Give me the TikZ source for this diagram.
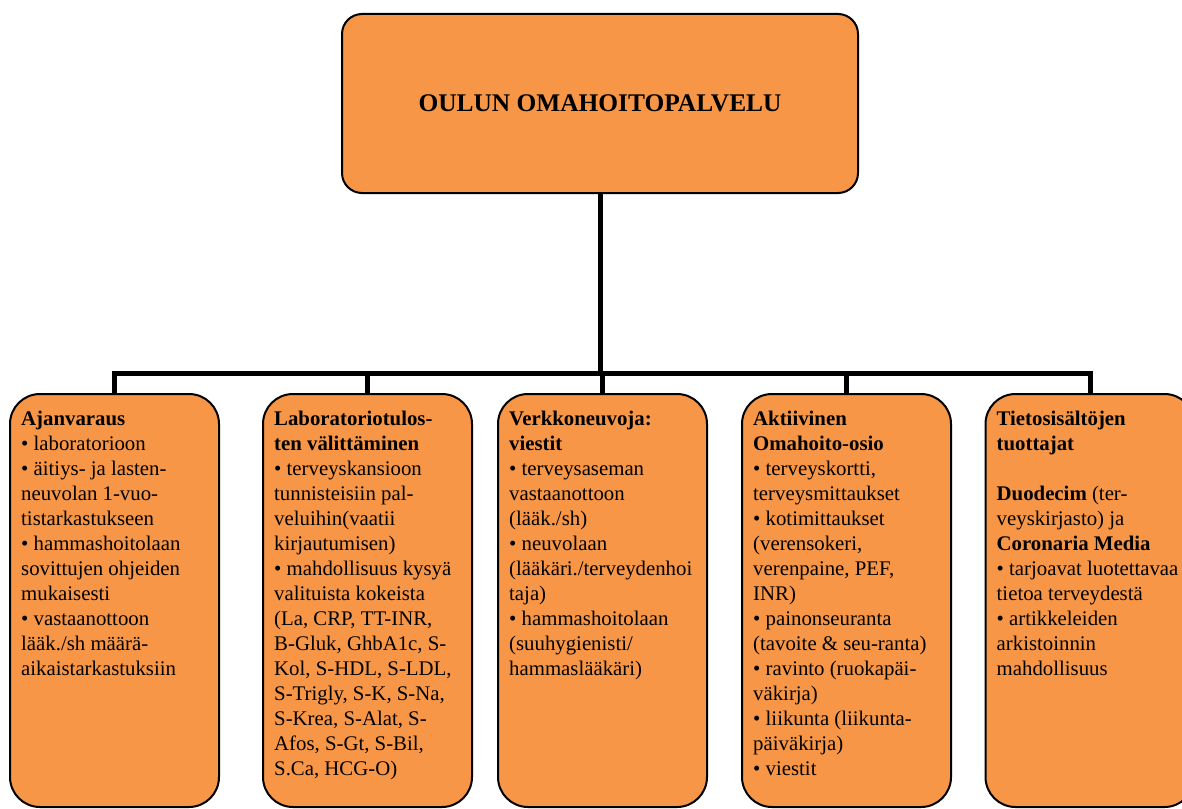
\documentclass[tikz,border=0pt]{standalone}
\usepackage{fontspec}
\setmainfont{Liberation Serif}
\usetikzlibrary{positioning}

\definecolor{boxorange}{RGB}{247,150,70}

\begin{document}
\begin{tikzpicture}[x=1pt, y=-1pt,
        every node/.style={inner sep=0pt},
        topbox/.style={draw, line width=2pt, fill=boxorange, rounded corners=20pt,
            minimum width=516pt, minimum height=179pt,
            font=\fontsize{25.4}{30}\selectfont\bfseries},
        subbox/.style={draw, line width=2pt, fill=boxorange, rounded corners=30pt,
            minimum width=209pt, minimum height=413pt, anchor=north},
        boxtext/.style={anchor=north west, align=left,
            font=\fontsize{20.8}{25}\selectfont},
        conn/.style={line width=5pt}
    ]
        \useasboundingbox (0,0) rectangle (1182,808);

        % Pääsolmu
        \node[topbox] (root) at (600,103.5) {OULUN OMAHOITOPALVELU};

        % Palvelulaatikot
        \node[subbox] (ajan) at (114.5,393) {};
        \node[subbox] (lab) at (367.5,393) {};
        \node[subbox] (verkko) at (602.5,393) {};
        \node[subbox] (aktiiv) at (846.5,393) {};
        \node[subbox] (tieto) at (1090,393) {};

        % Tekstit
        \node[boxtext] (ajan-txt) at ([shift={(12,18)}]ajan.north west) {%
            \textbf{Ajanvaraus}\\
            • laboratorioon\\
            • äitiys- ja lasten-\\
            neuvolan 1-vuo-\\
            tistarkastukseen\\
            • hammashoitolaan\\
            sovittujen ohjeiden\\
            mukaisesti\\
            • vastaanottoon\\
            lääk./sh määrä-\\
            aikaistarkastuksiin};
        \node[boxtext] (lab-txt) at ([shift={(12,18)}]lab.north west) {%
            \textbf{Laboratoriotulos-}\\
            \textbf{ten välittäminen}\\
            • terveyskansioon\\
            tunnisteisiin pal-\\
            veluihin(vaatii\\
            kirjautumisen)\\
            • mahdollisuus kysyä\\
            valituista kokeista\\
            (La, CRP, TT-INR,\\
            B-Gluk, GhbA1c, S-\\
            Kol, S-HDL, S-LDL,\\
            S-Trigly, S-K, S-Na,\\
            S-Krea, S-Alat, S-\\
            Afos, S-Gt, S-Bil,\\
            S.Ca, HCG-O)};
        \node[boxtext] (verkko-txt) at ([shift={(12,18)}]verkko.north west) {%
            \textbf{Verkkoneuvoja:}\\
            \textbf{viestit}\\
            • terveysaseman\\
            vastaanottoon\\
            (lääk./sh)\\
            • neuvolaan\\
            (lääkäri./terveydenhoi\\
            taja)\\
            • hammashoitolaan\\
            (suuhygienisti/\\
            hammaslääkäri)};
        \node[boxtext] (aktiiv-txt) at ([shift={(12,18)}]aktiiv.north west) {%
            \textbf{Aktiivinen}\\
            \textbf{Omahoito-osio}\\
            • terveyskortti,\\
            terveysmittaukset\\
            • kotimittaukset\\
            (verensokeri,\\
            verenpaine, PEF,\\
            INR)\\
            • painonseuranta\\
            (tavoite \& seu-ranta)\\
            • ravinto (ruokapäi-\\
            väkirja)\\
            • liikunta (liikunta-\\
            päiväkirja)\\
            • viestit};
        \node[boxtext] (tieto-txt) at ([shift={(12,18)}]tieto.north west) {%
            \textbf{Tietosisältöjen}\\
            \textbf{tuottajat}\\
            \mbox{}\\
            \textbf{Duodecim} (ter-\\
            veyskirjasto) ja\\
            \textbf{Coronaria Media}\\
            • tarjoavat luotettavaa\\
            tietoa terveydestä\\
            • artikkeleiden\\
            arkistoinnin\\
            mahdollisuus};

        % Yhteydet
        \coordinate (bus) at (600,373);
        \draw[conn] (root.south) -- (bus);
        \draw[conn] (ajan.north) |- (bus) -| (tieto.north);
        \foreach \n in {lab, verkko, aktiiv}
            \draw[conn] (\n.north) -- (\n.north |- bus);
    \end{tikzpicture}
\end{document}
